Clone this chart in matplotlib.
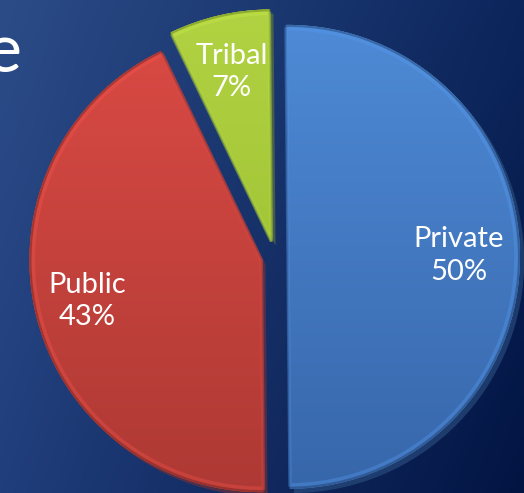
import numpy as np
import matplotlib
matplotlib.use("Agg")
import matplotlib.pyplot as plt
from matplotlib.colors import to_rgb

# ---- data ----
categories = ["Private", "Public", "Tribal"]
values = [50, 43, 7]
explode_px = [13, 14, 16]          # how far each slice is pulled out (pixels)
top_colors = ["#4f8cd8", "#dd4b45", "#b2d342"]
bottom_colors = ["#3766aa", "#ae3934", "#93b82e"]
label_dist = [0.735, 0.77, 0.75]
title_fragment = "e"

W, H = 524, 493
R = 232
CX, CY = 275, H - 257

fig = plt.figure(figsize=(W / 100, H / 100), dpi=100)
ax = fig.add_axes([0, 0, 1, 1])
ax.set_axis_off()

# background gradient
yy, xx = np.mgrid[0:1:200j, 0:1:200j]
tl = np.array([44, 76, 136]) / 255
tr = np.array([12, 38, 92]) / 255
bl = np.array([32, 62, 124]) / 255
br = np.array([2, 20, 66]) / 255
bg = ((1 - xx)[..., None] * (1 - yy)[..., None] * tl + xx[..., None] * (1 - yy)[..., None] * tr
      + (1 - xx)[..., None] * yy[..., None] * bl + xx[..., None] * yy[..., None] * br)
ax.imshow(bg, extent=(0, W, 0, H), origin="upper", aspect="auto", zorder=0)

wedges, _ = ax.pie(values, explode=explode_px, startangle=90.5,
                   counterclock=False, radius=R, center=(CX, CY),
                   colors=top_colors, shadow={"ox": 3, "oy": -3, "shade": 0.35},
                   wedgeprops=dict(edgecolor="none", linewidth=0))

for w, ct, cb, cat, v, d in zip(wedges, top_colors, bottom_colors, categories, values, label_dist):
    w.set_zorder(2)
    c = np.array(to_rgb(ct)); b = np.array(to_rgb(cb))
    t = np.linspace(0, 1, 256)[:, None, None]
    grad = (1 - t) * c + t * b
    grad = np.repeat(grad, 2, axis=1)
    im = ax.imshow(grad, extent=(0, W, 0, H), origin="upper", aspect="auto", zorder=3)
    im.set_clip_path(w)
    # bevel edge: soft darker rim and a lighter inner line
    ax.add_patch(matplotlib.patches.Wedge(w.center, w.r - 1, w.theta1, w.theta2,
                                          facecolor="none", edgecolor=b * 0.8,
                                          linewidth=1.5, zorder=4, alpha=0.6))
    ax.add_patch(matplotlib.patches.Wedge(w.center, w.r - 4, w.theta1, w.theta2,
                                          facecolor="none", edgecolor=np.minimum(c * 1.12, 1),
                                          linewidth=2.5, zorder=4, alpha=0.35))
    ang = np.deg2rad((w.theta1 + w.theta2) / 2)
    x = w.center[0] + d * w.r * np.cos(ang)
    y = w.center[1] + d * w.r * np.sin(ang)
    ax.text(x, y, f"{cat}\n{v}%", color="white", fontsize=21, family=["Lato", "DejaVu Sans"],
            ha="center", va="center", linespacing=1.3, zorder=5)

ax.text(21, H - 72, title_fragment, color="white", fontsize=49, family=["Lato", "DejaVu Sans"],
        ha="right", va="baseline", zorder=5)

ax.set_xlim(0, W)
ax.set_ylim(0, H)
ax.set_aspect("auto")
fig.savefig("out.png", dpi=100)
